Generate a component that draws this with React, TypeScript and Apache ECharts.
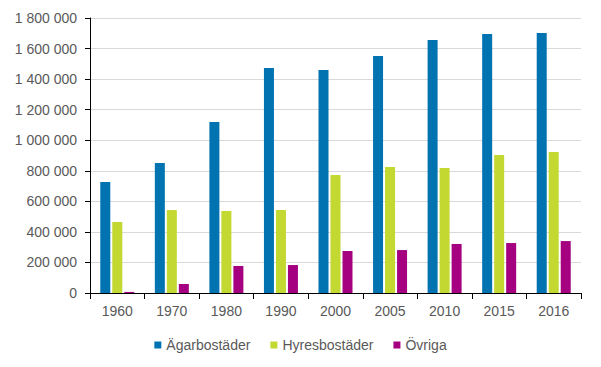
import React, { useEffect, useRef } from "react";
import * as echarts from "echarts";

const categories = ["1960", "1970", "1980", "1990", "2000", "2005", "2010", "2015", "2016"];
const agarbostader = [727000, 851000, 1119000, 1473000, 1460000, 1551000, 1656000, 1695000, 1702000];
const hyresbostader = [465000, 543000, 537000, 543000, 772000, 825000, 818000, 903000, 923000];
const ovriga = [7000, 59000, 177000, 183000, 275000, 281000, 321000, 327000, 340000];
const seriesNames = ["Ägarbostäder", "Hyresbostäder", "Övriga"];
const colors = ["#0073b0", "#c3d830", "#a4007f"];

const fmt = (v: number) => String(Math.round(v)).replace(/\B(?=(\d{3})+(?!\d))/g, " ");

export default function App() {
  const ref = useRef<HTMLDivElement>(null);
  useEffect(() => {
    if (!ref.current) return;
    const chart = echarts.init(ref.current, null, { renderer: "svg" });
    const font = "Arial, 'Liberation Sans', sans-serif";
    const mk = (name: string, data: number[], color: string) => ({
      name,
      type: "bar",
      data,
      barWidth: 10,
      barGap: "20%",
      itemStyle: { color },
    });
    chart.setOption({
      animation: false,
      textStyle: { fontFamily: font },
      grid: { left: 90, right: 20, top: 18, bottom: 74 },
      legend: {
        data: seriesNames,
        left: "center",
        top: 333,
        icon: "rect",
        itemWidth: 7,
        itemHeight: 7,
        itemGap: 20,
        textStyle: { color: "#595959", fontSize: 14, fontFamily: font },
      },
      xAxis: {
        type: "category",
        data: categories,
        axisLine: { lineStyle: { color: "#000", width: 1 } },
        axisTick: { show: true, length: 6, lineStyle: { color: "#000" } },
        axisLabel: { color: "#595959", fontSize: 14, margin: 11, fontFamily: font },
      },
      yAxis: {
        type: "value",
        min: 0,
        max: 1800000,
        interval: 200000,
        axisLine: { show: true, lineStyle: { color: "#000", width: 1 } },
        axisTick: { show: true, length: 5, lineStyle: { color: "#000" } },
        axisLabel: { color: "#595959", fontSize: 14, margin: 13, fontFamily: font, formatter: fmt },
        splitLine: { lineStyle: { color: "#d9d9d9", width: 1 } },
      },
      series: [
        mk(seriesNames[0], agarbostader, colors[0]),
        mk(seriesNames[1], hyresbostader, colors[1]),
        mk(seriesNames[2], ovriga, colors[2]),
      ],
    });
    return () => chart.dispose();
  }, []);
  return (
    <div
      ref={ref}
      style={{ position: "absolute", left: 0, top: 0, width: 601, height: 367, background: "#fff" }}
    />
  );
}
